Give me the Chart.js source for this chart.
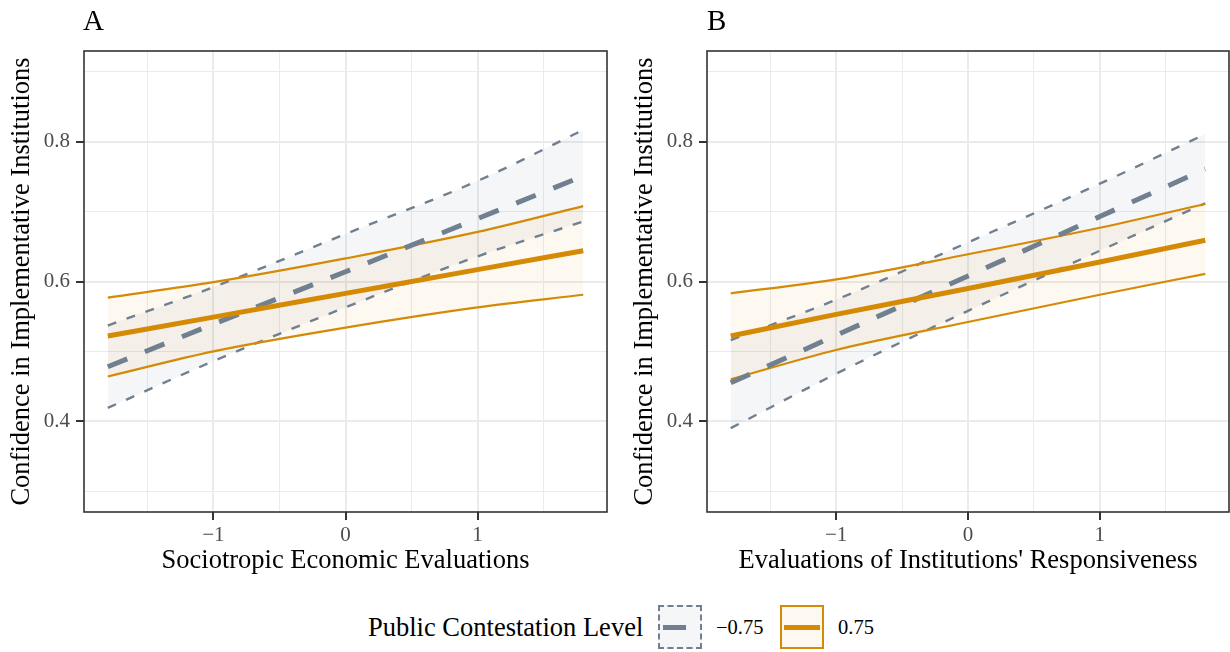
<!DOCTYPE html>
<html>
<head>
<meta charset="utf-8">
<script src="https://cdn.jsdelivr.net/npm/chart.js@4"></script>
<style>
  body { margin: 0; background: #fff; }
  #wrap { position: relative; width: 1230px; height: 652px; font-family: 'Liberation Serif', 'DejaVu Serif', serif; }
  canvas { position: absolute; top: 0; }
  .tag { position: absolute; top: 2px; font-size: 29px; line-height: 36px; color: #000; }
  .leg { position: absolute; top: 605px; height: 44px; line-height: 44px; color: #000; white-space: nowrap; }
  .key { position: absolute; top: 605px; width: 40px; height: 40px; box-sizing: content-box; }
  .key span { position: absolute; top: 18px; height: 5px; }
</style>
</head>
<body>
<div id="wrap">
  <canvas id="panelA" width="615" height="590" style="left:0"></canvas>
  <canvas id="panelB" width="615" height="590" style="left:615px"></canvas>
  <div class="tag" style="left:83px">A</div>
  <div class="tag" style="left:707px">B</div>

  <div class="leg" style="left:368px; font-size:26.5px">Public Contestation Level</div>
  <div class="key" style="left:658px; border:2.5px dashed #708090; background:rgba(112,128,144,0.07)">
    <span style="left:3px; width:23px; background:#708090"></span>
  </div>
  <div class="leg" style="left:716px; font-size:20.5px">&minus;0.75</div>
  <div class="key" style="left:780px; border:2.5px solid #d58a06; background:rgba(214,138,6,0.06)">
    <span style="left:2px; width:36px; background:#d58a06"></span>
  </div>
  <div class="leg" style="left:838px; font-size:20.5px">0.75</div>
</div>

<script>
// Predictor values where the fitted lines are evaluated
const xPoints = [-1.8, -1, 0, 1, 1.8];

// Panel A: sociotropic economic evaluations
const grayMeanA   = [0.478, 0.539, 0.614, 0.690, 0.751];
const grayUpperA  = [0.537, 0.592, 0.668, 0.744, 0.817];
const grayLowerA  = [0.419, 0.486, 0.563, 0.636, 0.686];
const orangeMeanA  = [0.522, 0.549, 0.583, 0.617, 0.644];
const orangeUpperA = [0.577, 0.599, 0.633, 0.671, 0.708];
const orangeLowerA = [0.464, 0.500, 0.534, 0.563, 0.581];

// Panel B: evaluations of institutions' responsiveness
const grayMeanB   = [0.455, 0.523, 0.608, 0.693, 0.761];
const grayUpperB  = [0.516, 0.574, 0.656, 0.740, 0.811];
const grayLowerB  = [0.390, 0.468, 0.558, 0.644, 0.712];
const orangeMeanB  = [0.522, 0.553, 0.590, 0.628, 0.659];
const orangeUpperB = [0.583, 0.603, 0.639, 0.677, 0.711];
const orangeLowerB = [0.460, 0.502, 0.542, 0.581, 0.611];

// Axis ticks (major ones get labels, the rest are minor grid lines)
const xTicks = [-1.5, -1, -0.5, 0, 0.5, 1, 1.5];
const xMajor = [-1, 0, 1];
const xLabels = ['\u22121', '0', '1'];
const yTicks = [0.3, 0.4, 0.5, 0.6, 0.7, 0.8, 0.9];
const yMajor = [0.4, 0.6, 0.8];

const GRAY = '#708090';
const ORANGE = '#d58a06';
const FONT = "'Liberation Serif', 'DejaVu Serif', serif";

function pts(ys) {
  return xPoints.map((x, i) => ({ x: x, y: ys[i] }));
}

function isMajor(list, v) {
  return list.some(m => Math.abs(m - v) < 1e-6);
}

// Box around the plotting area, drawn on top of the lines
const frame = {
  id: 'frame',
  afterDatasetsDraw(chart) {
    const a = chart.chartArea;
    const ctx = chart.ctx;
    ctx.save();
    ctx.strokeStyle = '#333333';
    ctx.lineWidth = 1.6;
    ctx.strokeRect(a.left, a.top, a.right - a.left, a.bottom - a.top);
    ctx.restore();
  }
};

function buildPanel(id, xTitle, padLeft, padRight, s) {
  const line = (data, color, width, dash, order, fill, bg) => ({
    data: pts(data),
    borderColor: color,
    borderWidth: width,
    borderDash: dash,
    pointRadius: 0,
    cubicInterpolationMode: 'monotone',
    order: order,
    fill: fill || false,
    backgroundColor: bg || 'transparent'
  });

  return new Chart(document.getElementById(id), {
    type: 'line',
    data: {
      datasets: [
        line(s.grayUpper, GRAY, 2.4, [9, 11], 6, '+1', 'rgba(112,128,144,0.07)'),
        line(s.grayLower, GRAY, 2.4, [9, 11], 5),
        line(s.orangeUpper, ORANGE, 2.2, [], 4, '+1', 'rgba(214,138,6,0.06)'),
        line(s.orangeLower, ORANGE, 2.2, [], 3),
        line(s.grayMean, GRAY, 5, [21, 19], 2),
        line(s.orangeMean, ORANGE, 5, [], 1)
      ]
    },
    options: {
      responsive: false,
      animation: false,
      devicePixelRatio: 1,
      layout: { padding: { left: padLeft, right: padRight, top: 51, bottom: 8 } },
      plugins: {
        legend: { display: false },
        tooltip: { enabled: false },
        filler: { drawTime: 'beforeDatasetsDraw' }
      },
      scales: {
        x: {
          type: 'linear',
          min: -1.98,
          max: 1.98,
          afterBuildTicks: sc => { sc.ticks = xTicks.map(v => ({ value: v })); },
          afterFit: sc => { sc.height = 70; },
          border: { display: false },
          grid: {
            color: '#ebebeb',
            lineWidth: c => isMajor(xMajor, c.tick.value) ? 2 : 1,
            tickLength: 8,
            tickWidth: 2,
            tickColor: c => isMajor(xMajor, c.tick.value) ? '#333333' : 'rgba(0,0,0,0)'
          },
          ticks: {
            autoSkip: false,
            maxRotation: 0,
            padding: 3,
            color: '#4d4d4d',
            font: { family: FONT, size: 21 },
            callback: v => {
              const k = xMajor.findIndex(m => Math.abs(m - v) < 1e-6);
              return k >= 0 ? xLabels[k] : '';
            }
          },
          title: {
            display: true,
            text: xTitle,
            color: '#000',
            font: { family: FONT, size: 26.5 },
            padding: { top: 0, bottom: 5 }
          }
        },
        y: {
          min: 0.27,
          max: 0.93,
          afterBuildTicks: sc => { sc.ticks = yTicks.map(v => ({ value: v })); },
          afterFit: sc => { sc.width = 84; },
          border: { display: false },
          grid: {
            color: '#ebebeb',
            lineWidth: c => isMajor(yMajor, c.tick.value) ? 2 : 1,
            tickLength: 8,
            tickWidth: 2,
            tickColor: c => isMajor(yMajor, c.tick.value) ? '#333333' : 'rgba(0,0,0,0)'
          },
          ticks: {
            autoSkip: false,
            padding: 6,
            color: '#4d4d4d',
            font: { family: FONT, size: 21 },
            callback: v => isMajor(yMajor, v) ? v.toFixed(1) : ''
          },
          title: {
            display: true,
            text: 'Confidence in Implementative Institutions',
            color: '#000',
            font: { family: FONT, size: 26.5 },
            padding: { top: 6, bottom: 0 }
          }
        }
      }
    },
    plugins: [frame]
  });
}

buildPanel('panelA', 'Sociotropic Economic Evaluations', 0, 8, {
  grayMean: grayMeanA, grayUpper: grayUpperA, grayLower: grayLowerA,
  orangeMean: orangeMeanA, orangeUpper: orangeUpperA, orangeLower: orangeLowerA
});

buildPanel('panelB', "Evaluations of Institutions' Responsiveness", 8, 1, {
  grayMean: grayMeanB, grayUpper: grayUpperB, grayLower: grayLowerB,
  orangeMean: orangeMeanB, orangeUpper: orangeUpperB, orangeLower: orangeLowerB
});
</script>
</body>
</html>
